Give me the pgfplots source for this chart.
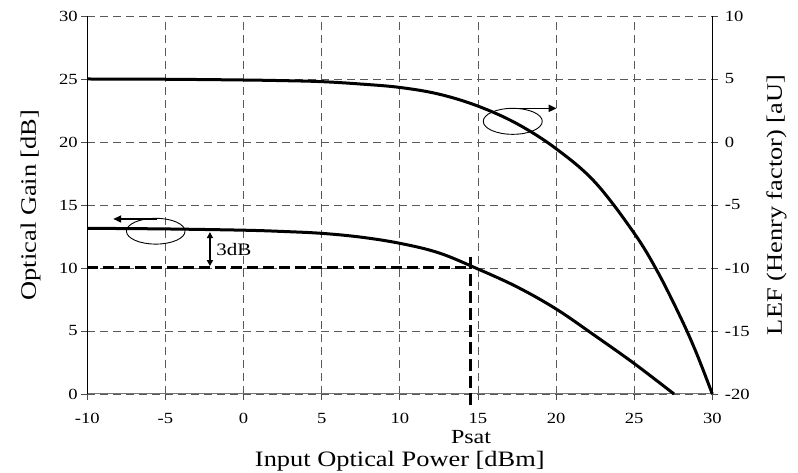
\documentclass[border=0pt]{standalone}
\usepackage{fontspec}
\setmainfont{Liberation Serif}[FakeStretch=1.2]
\usepackage{pgfplots}
\pgfplotsset{compat=1.18}
\usetikzlibrary{arrows.meta}
\newcommand\tickfont{\fontsize{15.5}{17}\selectfont}
\newcommand\labfont{\fontsize{22}{24}\selectfont}
\begin{document}
\begin{tikzpicture}
\path[use as bounding box] (-87.3pt,-79pt) rectangle (710.7pt,394pt);
\begin{axis}[
  at={(0pt,0pt)}, anchor=south west,
  width=625pt, height=378pt, scale only axis,
  xmin=-10, xmax=30, ymin=0, ymax=30,
  axis x line*=bottom, axis y line*=left,
  x axis line style={-, draw=black!55, line width=1pt},
  y axis line style={-, draw=black, line width=1pt},
  xtick={-10,-5,...,30}, xticklabels={-10,-5,0,5,10,15,20,25,30},
  ytick={0,5,...,30}, yticklabels={0,5,10,15,20,25,30},
  tick align=outside, major tick length=6pt,
  major tick style={black!70, line width=0.8pt},
  tick label style={font=\tickfont},
  xticklabel style={yshift=-10pt},
  grid=major, major grid style={black!65, line width=0.8pt, dash pattern=on 8pt off 5pt},
  xlabel={Input Optical Power [dBm]},
  ylabel={Optical Gain [dB]},
  label style={font=\labfont},
  xlabel style={at={(axis description cs:0.5,-0.1786)}, anchor=center},
  ylabel style={at={(axis description cs:-0.0909,0.5)}, anchor=center},
  clip=false,
]
\addplot[black, line width=3pt, smooth, tension=0.6] coordinates {
(-10,13.15) (-5,13.1) (0,13.0) (2.5,12.9) (5,12.75) (7.5,12.45) (10,11.96) (12.5,11.2) (15,9.92) (17.5,8.5) (20,6.75) (22.5,4.62) (25,2.42) (27.55,0)
};
% saturation guide lines
\addplot[black, line width=3pt, dash pattern=on 11pt off 5pt] coordinates {(-10,10) (14.5,10)};
\addplot[black, line width=3pt, dash pattern=on 12pt off 5pt] coordinates {(14.5,10.9) (14.5,-1.0)};
% 3dB marker
\draw[{Triangle[length=6pt,width=6pt]}-{Triangle[length=6pt,width=6pt]}, line width=1.5pt] (axis cs:-2.15,12.85) -- (axis cs:-2.15,10.15);
\node[anchor=west, font=\fontsize{17.5}{19}\selectfont, inner sep=0pt] at (axis cs:-1.75,11.45) {3dB};
\node[font=\fontsize{20}{22}\selectfont, inner sep=0pt] at (axis cs:14.56,-3.4) {Psat};
% axis indicators
\draw[line width=0.9pt] (axis cs:-5.62,12.92) ellipse [x radius=29.3pt, y radius=12.9pt];
\draw[-{Triangle[length=8pt,width=7pt]}, line width=1.7pt] (axis cs:-5.56,13.89) -- (axis cs:-8.34,13.89);
\draw[line width=0.9pt] (axis cs:17.23,21.64) ellipse [x radius=29.5pt, y radius=13pt];
\draw[-{Triangle[length=8pt,width=7pt]}, line width=1.7pt] (axis cs:17.23,22.67) -- (axis cs:20.04,22.67);
\end{axis}
\begin{axis}[
  at={(0pt,0pt)}, anchor=south west,
  width=625pt, height=378pt, scale only axis,
  xmin=-10, xmax=30, ymin=-20, ymax=10,
  axis x line=none, axis y line*=right,
  y axis line style={-, draw=black, line width=1pt},
  ytick={-20,-15,...,10}, yticklabels={-20,-15,-10,-5,0,5,10},
  tick align=outside, major tick length=6pt,
  major tick style={black!70, line width=0.8pt},
  tick label style={font=\tickfont},
  yticklabel style={xshift=3pt},
  ylabel={LEF (Henry factor) [aU]},
  ylabel style={font=\labfont, at={(axis description cs:1.1027,0.5)}, anchor=center},
  clip=false,
]
\addplot[black, line width=3pt, smooth, tension=0.6] coordinates {
(-10,5.0) (-5,4.98) (0,4.92) (2.5,4.87) (5,4.79) (7.5,4.6) (10,4.33) (12.5,3.8) (15,2.85) (17.5,1.45) (20,-0.53) (22.5,-3.2) (25,-7.24) (26.5,-10.3) (28,-14.0) (29,-16.8) (30,-20)
};
\end{axis}
\end{tikzpicture}
\end{document}
